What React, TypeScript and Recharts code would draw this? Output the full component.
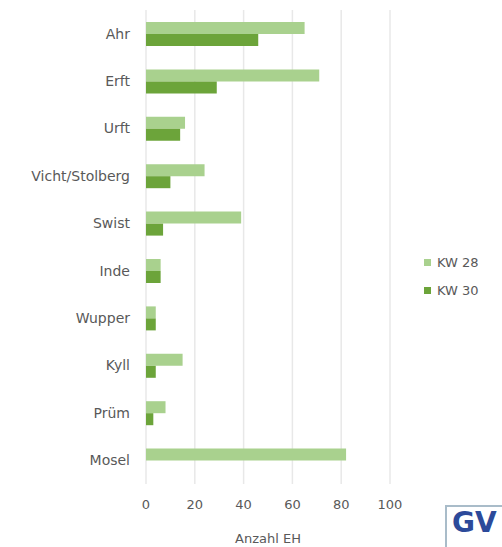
import React from 'react';
import { BarChart, Bar, XAxis, YAxis, CartesianGrid, Legend, Label } from 'recharts';

const rivers = ['Ahr', 'Erft', 'Urft', 'Vicht/Stolberg', 'Swist', 'Inde', 'Wupper', 'Kyll', 'Prüm', 'Mosel'];
const kw28 = [65, 71, 16, 24, 39, 6, 4, 15, 8, 82];
const kw30 = [46, 29, 14, 10, 7, 6, 4, 4, 3, 0];
const xTicks = [0, 20, 40, 60, 80, 100];

const data = rivers.map((name, i) => ({ name, kw28: kw28[i], kw30: kw30[i] }));

const FONT = '"DejaVu Sans", sans-serif';
const TEXT = '#595959';

const LegendBox = ({ payload }: any) => (
  <div style={{ fontFamily: FONT, fontSize: 13, color: TEXT }}>
    {(payload || []).map((p: any) => (
      <div key={p.value} style={{ display: 'flex', alignItems: 'center', height: 28 }}>
        <span style={{ width: 7, height: 7, background: p.color, marginRight: 6 }} />
        {p.value}
      </div>
    ))}
  </div>
);

const App: React.FC = () => {
  return (
    <div style={{ position: 'absolute', left: 0, top: 0, width: 502, height: 547, background: '#fff', overflow: 'hidden' }}>
      <BarChart
        width={502}
        height={547}
        data={data}
        layout="vertical"
        barSize={12}
        barGap={0}
        margin={{ top: 10, right: 112, left: 0, bottom: 0 }}
      >
        <CartesianGrid horizontal={false} stroke="#e8e8e8" strokeWidth={1.5} />
        <XAxis
          type="number"
          domain={[0, 100]}
          ticks={xTicks}
          height={63}
          tickSize={0}
          tickMargin={16}
          axisLine={false}
          tick={{ fill: TEXT, fontSize: 13, fontFamily: FONT }}
        >
          <Label value="Anzahl EH" position="insideBottom" offset={4} fill={TEXT} fontSize={13} fontFamily={FONT} />
        </XAxis>
        <YAxis
          type="category"
          dataKey="name"
          width={146}
          tickSize={0}
          tickMargin={16}
          axisLine={false}
          tick={{ fill: TEXT, fontSize: 14, fontFamily: FONT }}
        />
        <Legend
          layout="vertical"
          align="center"
          verticalAlign="middle"
          wrapperStyle={{ left: 424, top: 248, width: 78 }}
          content={<LegendBox />}
        />
        <Bar dataKey="kw28" name="KW 28" fill="#a9d18e" isAnimationActive={false} />
        <Bar dataKey="kw30" name="KW 30" fill="#6ca43a" isAnimationActive={false} />
      </BarChart>
      <div
        style={{
          position: 'absolute',
          left: 445,
          top: 505,
          width: 70,
          height: 50,
          border: '2px solid #a9bcc9',
          boxSizing: 'border-box',
          fontFamily: '"DejaVu Sans", sans-serif',
          fontWeight: 'bold',
          fontSize: 28,
          color: '#2c4a9a',
          paddingLeft: 5,
          lineHeight: '32px',
        }}
      >
        GV
      </div>
    </div>
  );
};

export default App;
